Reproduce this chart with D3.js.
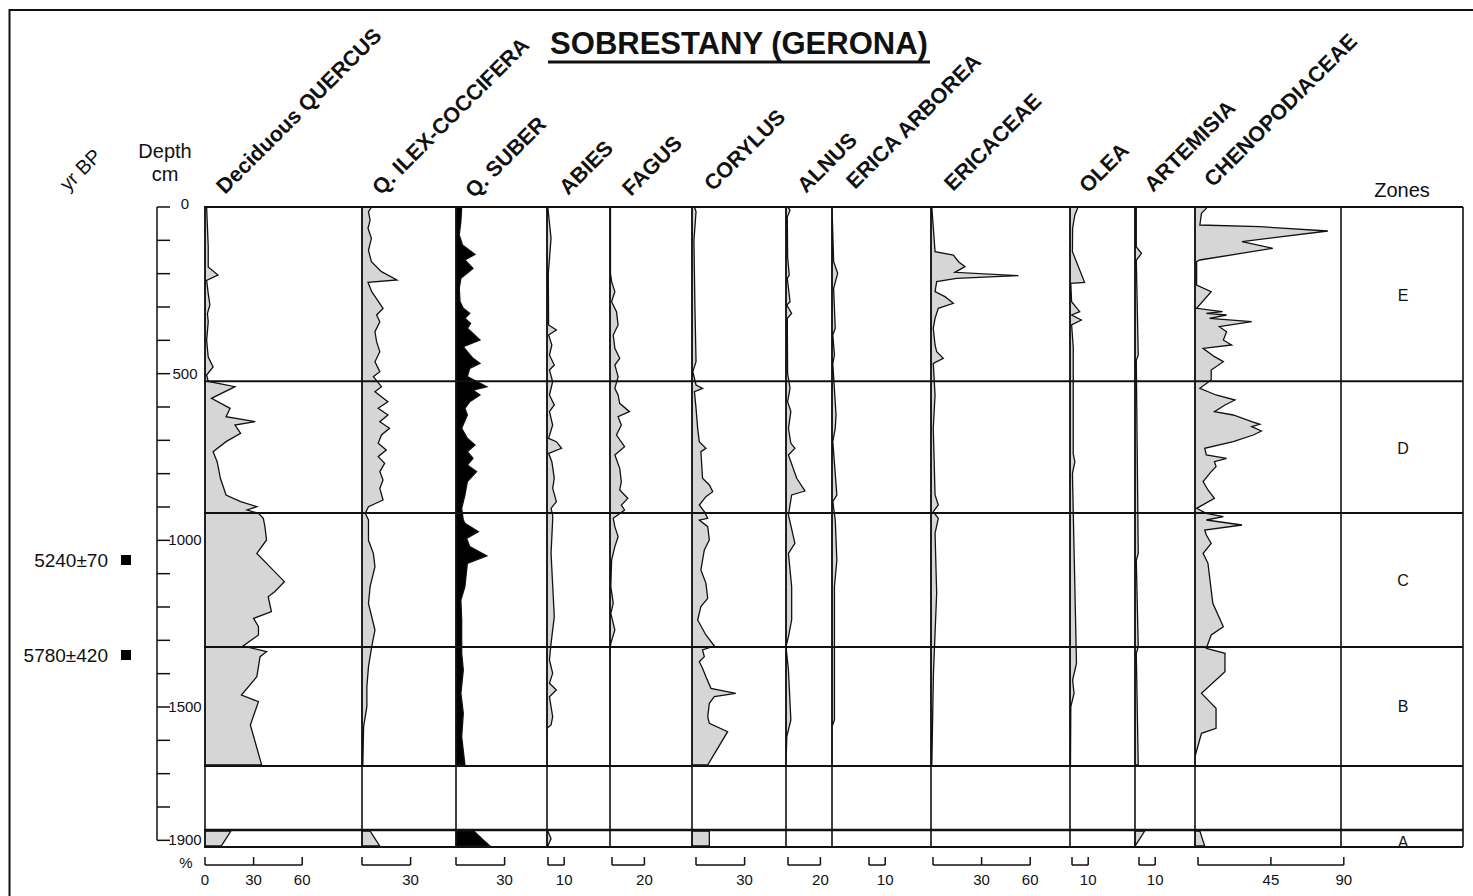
<!DOCTYPE html>
<html><head><meta charset="utf-8">
<script src="https://cdn.jsdelivr.net/npm/d3@7"></script>
<style>
body{margin:0;background:#fff}
svg{display:block}
text{font-family:"Liberation Sans",Arial,Helvetica,sans-serif;fill:#111}
</style>
</head><body>
<svg id="c" width="1473" height="896"></svg>
<script>
// ---------------- DATA ----------------
const title = "SOBRESTANY (GERONA)";
const taxa = ["Deciduous QUERCUS","Q. ILEX-COCCIFERA","Q. SUBER","ABIES","FAGUS","CORYLUS","ALNUS","ERICA ARBOREA","ERICACEAE","OLEA","ARTEMISIA","CHENOPODIACEAE"];

const quercusDepth = [0,60,120,180,204,220,260,294,320,344,400,450,480,504,523,539,574,604,629,644,654,679,704,734,764,814,864,884,899,909,919,934,959,999,1039,1069,1124,1154,1169,1214,1234,1259,1284,1317,1334,1349,1409,1464,1484,1554,1674];
const quercusPct   = [1,1.5,2,2,8,1,2,3,1.5,2,1,2,5,1,2,18.5,4,15.5,13,31,18.5,22,13,5,7.5,9.5,13,22,32,26,33,36,37,38,32,38,49,43,39,41,30,33,33,23.5,38,34,32,22.5,33,28,35];

const ilexDepth = [0,14,40,64,94,130,164,194,219,226,254,304,324,344,374,404,434,464,494,509,539,554,584,604,624,644,664,684,709,729,749,769,794,819,844,879,899,919,939,1000,1039,1079,1139,1189,1269,1319,1379,1439,1499,1559,1674];
const ilexPct   = [6,4,5,3.7,5.8,4,5.8,12,21.6,3.7,6,13,9,11,8,9,11,8,11,7,12,8,16,10,16,11,17,12,10,15,10,14,11,13,11,13,4,2,4,4,7,8,5,4,8,6,4,3,3,1,0.5];

const suberDepth = [0,44,84,114,142,159,184,214,244,284,304,319,334,349,364,399,419,434,454,469,484,509,539,549,564,584,604,624,664,694,714,734,754,774,794,824,864,904,939,949,974,994,1019,1047,1069,1139,1179,1239,1339,1389,1459,1519,1589,1674];
const suberPct   = [3.5,3,2,4,11.7,5.5,10.5,3,2,2.5,4.5,8.5,5.5,9,7,14.8,4.5,7,10.5,14.8,8.5,7,19,10.5,14.8,8.5,5.5,7,3.5,7,11.7,7,10.5,7,12.7,7,5.5,3.5,4.5,5.5,13.8,6.5,8.5,19,7,5.5,3,3.5,3.5,4.5,3,4.5,3.5,5.5];

const abiesDepth = [0,94,200,354,369,384,414,444,474,489,524,564,594,614,654,694,704,724,739,764,814,844,884,904,924,939,1039,1229,1309,1359,1399,1429,1449,1469,1529,1554,1564,1674];
const abiesPct   = [0.5,2.5,0.8,1,5.8,1,3,1.5,4.5,1.5,3.5,1.5,4.5,1.5,3.5,1,5.8,9,1,3,4.5,3.5,5.8,2.5,3.5,3.5,2.5,4.5,2.5,1.5,3.5,1.5,5.8,1.5,3.5,2.5,0,0];

const fagusDepth = [0,200,224,254,284,314,354,384,424,454,474,509,544,564,589,614,629,654,684,719,744,784,824,849,874,894,909,934,959,989,1019,1059,1139,1189,1219,1269,1309,1330,1674];
const fagusPct   = [0.3,0.3,1,3,1,4,5,2,3,6,3,5,3,5,6,12,5,7,4,9,3,6,7,6,11,7,9,2,3,5,3,1,0.5,2,0.5,3,0.5,0,0];

const corylusDepth = [0,14,100,300,464,494,534,544,554,604,664,704,724,734,814,834,854,869,894,914,934,939,959,999,1029,1089,1129,1174,1199,1239,1284,1317,1329,1349,1364,1384,1409,1444,1459,1469,1489,1529,1549,1574,1674];
const corylusPct   = [1.5,2.5,1.2,1.8,2.5,0.5,2.5,6.5,1.5,2.5,3.5,4.5,8.6,5.5,6.5,10.7,12.8,8.6,4.5,7.6,9.7,4.5,9.7,10.7,7.6,5.5,8.6,9.7,5.5,3.5,8.6,13.8,6.5,7.6,4.5,6.5,8.6,11.7,27,13.8,10.7,9.7,10.7,22,9.7];

const alnusDepth = [0,9,30,150,204,214,284,294,319,334,500,544,584,614,664,709,724,744,814,852,864,924,1009,1039,1139,1239,1289,1319,1389,1539,1589,1674];
const alnusPct   = [1,2.5,0.8,1,2,0.8,2.5,0.5,3.5,0.8,1,2.5,1,3,1.5,3,5.5,1.5,6.6,11.7,3.5,1.5,5.5,1.5,3.5,3.5,1.5,0,1.5,3,0.5,0];

const ericaArbDepth = [0,164,199,244,364,384,444,470,624,664,704,864,884,939,1059,1139,1439,1539,1559,1674];
const ericaArbPct   = [0,1,3.5,1,2,0.5,1.5,0.5,2.5,2,0.5,3,0.5,2,3,1.5,1.5,1.5,0,0];

const ericaceaeDepth = [0,134,144,164,179,196,206,214,224,254,269,289,304,334,364,414,434,454,469,564,664,864,894,914,934,979,1159,1400,1674];
const ericaceaePct   = [0.5,2.5,13.8,17,21,14.8,54,15.8,3.5,2.5,8.6,13.8,4.5,2.5,1.4,2.5,3.5,7.6,1.4,2.5,1.4,2.5,4.5,1.4,4.5,2.5,3.5,1.5,0.5];

const oleaDepth = [0,24,64,134,226,229,284,314,324,339,354,420,740,764,800,1139,1369,1419,1459,1499,1674];
const oleaPct   = [5,3,1.6,1.5,9,0.5,1,6,1,7,1,2,2,3,1.5,3,4,1.6,2.5,0.5,0.3];

const artemisiaDepth = [0,120,139,160,444,460,1039,1060,1319,1340,1674];
const artemisiaPct   = [0.8,0.8,4,0.8,2,0.8,2,0.8,2,0.8,2];

const chenoDepth = [0,4,19,54,59,72,104,124,159,164,234,254,304,314,319,324,334,344,359,374,399,414,424,449,464,489,519,544,564,579,594,614,624,644,652,659,672,684,704,724,744,754,764,779,794,824,849,874,904,919,929,939,954,969,984,1009,1039,1069,1189,1259,1284,1324,1339,1394,1459,1504,1564,1579,1649,1674];
const chenoPct   = [7,7,4,3,40,82,29,48,3,1,1,10,1,17,7,19.5,9,35,15,19.5,17.5,22.6,5,12,17.5,10,10,3,13,24.7,18.5,12,23.6,35,40,35,41,36,23.6,6,7,19.5,12,13,10,5,8,12,1,7,17.5,7,29,6,7,10,5,8,11,17.5,10,7,18.5,18.5,4,13,13,4,0,0];

// Zone A samples (lowest, separate block)
const zoneADepth   = [1872,1895,1917];
const quercusA     = [16,13,10];
const ilexA        = [5,8,11];
const suberA       = [11,16,21];
const abiesA       = [0.5,2.5,0.5];
const corylusA     = [10.7,10.7,10.7];
const artemisiaA   = [6,3,0];
const chenoA       = [3,4.5,6];

// Zones
const zoneBounds = [0,523,918,1320,1677,1869,1920];
const zoneNames = ["E","D","C","B","A"];
const zoneLabelDepth = [264,723,1119,1497,1905];

// Depth axis
const depthTicks = d3.range(0,2000,100);
const depthLabels = [0,500,1000,1500,1900];

// Radiocarbon dates
const dateLabels = ["5240\u00b170","5780\u00b1420"];
const dateDepth  = [1059,1344];

// Scale bars
const barMax      = [60,30,30,10,20,30,20,10,60,10,10,90];
const barTicks    = [[0,30,60],[0,30],[0,30],[0,10],[0,20],[0,30],[0,20],[0,10],[0,30,60],[0,10],[0,10],[0,45,90]];
const barLabelled = [[0,30,60],[30],[30],[10],[20],[30],[20],[10],[30,60],[10],[10],[45,90]];

// ---------------- LAYOUT ----------------
const panelLeft = [205,362,456,547,610,692,786,832,931,1070,1135,1195];
const zoneColLeft = 1341, plotRight = 1463;
const pxPerPct = 1.62;
const barOffset = [0,0,0,1,2,4,2,37,2,2,4,3];
const labelAnchor = [[225,195],[381,196],[474,199],[568,196],[631,197],[713,192],[806,194],[855,190],[953,192],[1088,194],[1153,193],[1213,188]];

const series = [
  [quercusDepth,quercusPct,quercusA],
  [ilexDepth,ilexPct,ilexA],
  [suberDepth,suberPct,suberA],
  [abiesDepth,abiesPct,abiesA],
  [fagusDepth,fagusPct,null],
  [corylusDepth,corylusPct,corylusA],
  [alnusDepth,alnusPct,null],
  [ericaArbDepth,ericaArbPct,null],
  [ericaceaeDepth,ericaceaePct,null],
  [oleaDepth,oleaPct,null],
  [artemisiaDepth,artemisiaPct,artemisiaA],
  [chenoDepth,chenoPct,chenoA]
];

// ---------------- DRAW ----------------
const svg = d3.select("#c");
const y = d3.scaleLinear().domain([0,1920]).range([207,847]);
const ink = "#111";

// frame
svg.append("rect").attr("x",9.5).attr("y",10).attr("width",1500).attr("height",900)
  .attr("fill","none").attr("stroke",ink).attr("stroke-width",2);

// title
svg.append("text").attr("x",739).attr("y",54).attr("text-anchor","middle")
  .style("font-size","31px").style("font-weight","bold").text(title);
svg.append("line").attr("x1",548).attr("x2",930).attr("y1",62).attr("y2",62)
  .attr("stroke",ink).attr("stroke-width",3);

// curves
series.forEach((s,i)=>{
  const x = d3.scaleLinear().domain([0,100]).range([panelLeft[i], panelLeft[i]+100*pxPerPct]);
  const area = d3.area().x0(x(0)).x1(d=>x(d[1])).y(d=>y(d[0]));
  const fill = i===2 ? "#000" : "#d6d6d6";
  const pts = s[0].map((dd,k)=>[dd,s[1][k]]);
  svg.append("path").attr("d",area(pts)).attr("fill",fill).attr("stroke",ink).attr("stroke-width",1.3).attr("stroke-linejoin","miter");
  if(s[2]){
    const ptsA = zoneADepth.map((dd,k)=>[dd,s[2][k]]);
    svg.append("path").attr("d",area(ptsA)).attr("fill",fill).attr("stroke",ink).attr("stroke-width",1.3);
  }
  // scale bar
  const bx = d3.scaleLinear().domain([0,100]).range([panelLeft[i]+barOffset[i], panelLeft[i]+barOffset[i]+100*pxPerPct]);
  const by = 865;
  const g = svg.append("g");
  g.append("line").attr("x1",bx(0)).attr("x2",bx(barMax[i])).attr("y1",by).attr("y2",by).attr("stroke",ink).attr("stroke-width",1.5);
  barTicks[i].forEach(t=>{
    g.append("line").attr("x1",bx(t)).attr("x2",bx(t)).attr("y1",by).attr("y2",by-8).attr("stroke",ink).attr("stroke-width",1.5);
  });
  barLabelled[i].forEach(t=>{
    g.append("text").attr("x",bx(t)).attr("y",by+20).attr("text-anchor","middle").style("font-size","15px").text(t);
  });
  // taxon label
  svg.append("text").attr("transform",`translate(${labelAnchor[i][0]},${labelAnchor[i][1]}) rotate(-45)`)
    .style("font-size","21.5px").style("font-weight","bold").text(taxa[i]);
});

// zone horizontal lines
zoneBounds.forEach((z,k)=>{
  svg.append("line").attr("x1",204).attr("x2",plotRight).attr("y1",y(z)).attr("y2",y(z))
    .attr("stroke",ink).attr("stroke-width", k===5 ? 2.6 : 2);
});
// panel vertical lines
panelLeft.concat([zoneColLeft, plotRight]).forEach((px,k)=>{
  svg.append("line").attr("x1",px).attr("x2",px).attr("y1",y(0)).attr("y2",y(1920))
    .attr("stroke",ink).attr("stroke-width", 1.6);
});
// zone names
zoneNames.forEach((n,k)=>{
  svg.append("text").attr("x",(zoneColLeft+plotRight)/2+1).attr("y",y(zoneLabelDepth[k])+6)
    .attr("text-anchor","middle").style("font-size","16px").text(n);
});
svg.append("text").attr("x",1402).attr("y",197).attr("text-anchor","middle").style("font-size","20px").text("Zones");

// depth axis
const ax = 157;
svg.append("line").attr("x1",ax).attr("x2",ax).attr("y1",y(0)).attr("y2",y(1900)).attr("stroke",ink).attr("stroke-width",1.5);
depthTicks.forEach(t=>{
  svg.append("line").attr("x1",ax).attr("x2",ax+13).attr("y1",y(t)).attr("y2",y(t)).attr("stroke",ink).attr("stroke-width",1.5);
});
depthLabels.forEach(t=>{
  svg.append("text").attr("x",185).attr("y",y(t)+ (t===0 ? 2 : 5)).attr("text-anchor","middle").style("font-size","15px").text(t);
});
svg.append("text").attr("x",165).attr("y",158).attr("text-anchor","middle").style("font-size","20px").text("Depth");
svg.append("text").attr("x",165).attr("y",181).attr("text-anchor","middle").style("font-size","20px").text("cm");
svg.append("text").attr("transform","translate(68,192) rotate(-45)").style("font-size","20px").text("yr BP");
svg.append("text").attr("x",186).attr("y",868).attr("text-anchor","middle").style("font-size","15px").text("%");

// dates
dateLabels.forEach((lab,k)=>{
  svg.append("text").attr("x",108).attr("y",y(dateDepth[k])+7).attr("text-anchor","end").style("font-size","19px").text(lab);
  svg.append("rect").attr("x",121).attr("y",y(dateDepth[k])-5).attr("width",10).attr("height",10).attr("fill","#000");
});
</script>
</body></html>
